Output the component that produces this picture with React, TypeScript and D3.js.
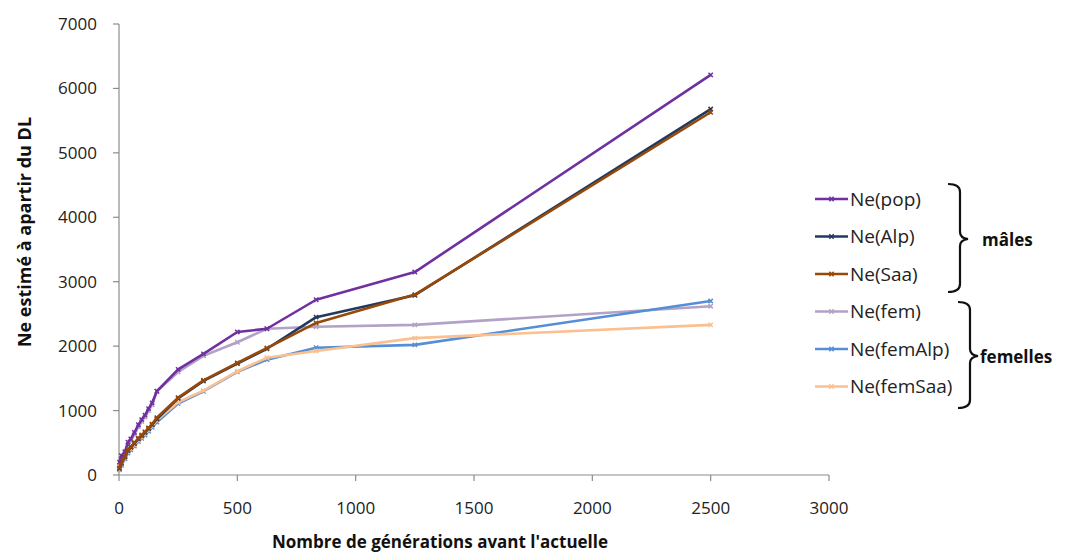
import React from "react";
import * as d3 from "d3";

const GEN = [2, 10, 25, 38, 50, 65, 82, 96, 110, 125, 140, 160, 250, 357, 500, 625, 833, 1250, 2500];

const NE_POP = [200, 300, 360, 510, 560, 660, 780, 860, 930, 1030, 1120, 1300, 1640, 1880, 2220, 2270, 2720, 3150, 6210];
const NE_ALP = [100, 180, 280, 380, 430, 490, 560, 610, 660, 720, 780, 870, 1190, 1460, 1730, 1960, 2450, 2790, 5680];
const NE_SAA = [110, 190, 290, 390, 440, 500, 570, 620, 670, 730, 790, 890, 1200, 1470, 1740, 1970, 2360, 2800, 5630];
const NE_FEM = [150, 260, 330, 470, 530, 630, 750, 830, 900, 1000, 1090, 1300, 1600, 1850, 2060, 2270, 2300, 2330, 2620];
const NE_FEMALP = [80, 150, 250, 340, 390, 450, 520, 570, 620, 680, 740, 820, 1110, 1300, 1600, 1790, 1975, 2020, 2700];
const NE_FEMSAA = [90, 170, 270, 360, 410, 470, 540, 590, 640, 700, 760, 850, 1130, 1310, 1610, 1820, 1925, 2125, 2330];

const SERIES_NAMES = ["Ne(pop)", "Ne(Alp)", "Ne(Saa)", "Ne(fem)", "Ne(femAlp)", "Ne(femSaa)"];
const SERIES_VALUES = [NE_POP, NE_ALP, NE_SAA, NE_FEM, NE_FEMALP, NE_FEMSAA];
const SERIES_COLORS = ["#7030A0", "#1F3A5F", "#984807", "#B3A2C7", "#558ED5", "#FAC090"];

const X_TICKS = [0, 500, 1000, 1500, 2000, 2500, 3000];
const Y_TICKS = [0, 1000, 2000, 3000, 4000, 5000, 6000, 7000];

const GROUP_LABELS = ["mâles", "femelles"];

export default function App() {
  const W = 1075;
  const H = 557;
  const x = d3.scaleLinear().domain([0, 3000]).range([119, 829]);
  const y = d3.scaleLinear().domain([0, 7000]).range([475, 24]);
  const axisColor = "#8c8c8c";
  const font = "'Open Sans', sans-serif";
  const line = d3
    .line<[number, number]>()
    .x((d) => x(d[0]))
    .y((d) => y(d[1]));
  const marker = d3.symbol().type(d3.symbolTimes).size(14);

  const order = [3, 4, 5, 0, 1, 2];

  const legendY0 = 199;
  const legendStep = 37.5;

  return (
    <svg
      width={W}
      height={H}
      style={{ position: "absolute", left: 0, top: 0, background: "#fff" }}
    >
      <rect x={0} y={0} width={W} height={H} fill="#fff" />
      <line x1={x(0)} x2={x(0)} y1={y(7000)} y2={y(0)} stroke={axisColor} strokeWidth={1.2} />
      <line x1={x(0)} x2={x(3000)} y1={y(0)} y2={y(0)} stroke={axisColor} strokeWidth={1.2} />
      {Y_TICKS.map((t) => (
        <g key={"y" + t}>
          <line x1={x(0) - 6} x2={x(0)} y1={y(t)} y2={y(t)} stroke={axisColor} strokeWidth={1.2} />
          <text
            x={97}
            y={y(t)}
            dy="0.35em"
            textAnchor="end"
            fontFamily={font}
            fontSize={17}
            fill="#222"
          >
            {t}
          </text>
        </g>
      ))}
      {X_TICKS.map((t) => (
        <g key={"x" + t}>
          <line x1={x(t)} x2={x(t)} y1={y(0)} y2={y(0) + 6} stroke={axisColor} strokeWidth={1.2} />
          <text
            x={x(t)}
            y={508}
            dy="0.35em"
            textAnchor="middle"
            fontFamily={font}
            fontSize={17}
            fill="#222"
          >
            {t}
          </text>
        </g>
      ))}
      <text
        x={440}
        y={548}
        textAnchor="middle"
        fontFamily={font}
        fontWeight="bold"
        fontSize={17}
        fill="#111"
      >
        Nombre de générations avant l'actuelle
      </text>
      <text
        transform={`translate(25, 232) rotate(-90)`}
        textAnchor="middle"
        dy="0.35em"
        fontFamily={font}
        fontWeight="bold"
        fontSize={18}
        fill="#111"
      >
        Ne estimé à apartir du DL
      </text>

      {order.map((i) => {
        const pts: [number, number][] = GEN.map((g, k) => [g, SERIES_VALUES[i][k]]);
        return (
          <g key={"s" + i}>
            <path d={line(pts) || ""} fill="none" stroke={SERIES_COLORS[i]} strokeWidth={2.6} strokeLinejoin="round" />
            {pts.map((p, k) => (
              <path
                key={k}
                d={marker() || ""}
                transform={`translate(${x(p[0])},${y(p[1])})`}
                fill="none"
                stroke={SERIES_COLORS[i]}
                strokeWidth={1.5}
              />
            ))}
          </g>
        );
      })}

      {SERIES_NAMES.map((name, i) => {
        const ly = legendY0 + i * legendStep;
        return (
          <g key={"l" + i}>
            <line x1={815} x2={848} y1={ly} y2={ly} stroke={SERIES_COLORS[i]} strokeWidth={2.6} />
            <path d={marker() || ""} transform={`translate(831.5,${ly})`} fill="none" stroke={SERIES_COLORS[i]} strokeWidth={1.5} />
            <text x={850} y={ly} dy="0.35em" fontFamily={font} fontSize={19} fill="#222">
              {name}
            </text>
          </g>
        );
      })}

      <path
        d="M948,184 Q960,184 960,192 L960,232 Q960,238 968,239 Q960,240 960,246 L960,284 Q960,292 948,292"
        fill="none"
        stroke="#111"
        strokeWidth={2.2}
      />
      <text x={982} y={240} dy="0.35em" fontFamily={font} fontWeight="bold" fontSize={17} fill="#111">
        {GROUP_LABELS[0]}
      </text>
      <path
        d="M958,302 Q970,302 970,310 L970,349 Q970,355 978,356 Q970,357 970,363 L970,400 Q970,408 958,408"
        fill="none"
        stroke="#111"
        strokeWidth={2.2}
      />
      <text x={980} y={357} dy="0.35em" fontFamily={font} fontWeight="bold" fontSize={17} fill="#111">
        {GROUP_LABELS[1]}
      </text>
    </svg>
  );
}
